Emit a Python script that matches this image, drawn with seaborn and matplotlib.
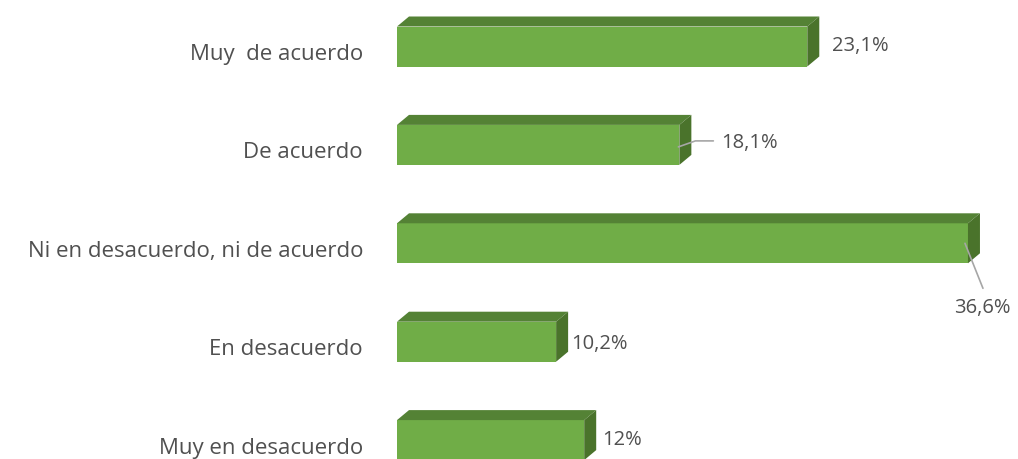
import matplotlib
matplotlib.use("Agg")
import matplotlib.pyplot as plt
from matplotlib.patches import Polygon
import pandas as pd
import seaborn as sns

# Survey answers, top to bottom as drawn
categories = [
    "Muy  de acuerdo",
    "De acuerdo",
    "Ni en desacuerdo, ni de acuerdo",
    "En desacuerdo",
    "Muy en desacuerdo",
]
# bar lengths (%)
values = [26.3, 18.1, 36.6, 10.2, 12.0]
# data labels as printed in the chart
value_labels = ["23,1%", "18,1%", "36,6%", "10,2%", "12%"]

FRONT_COLOR = "#70AD47"
TOP_COLOR = "#548235"
SIDE_COLOR = "#4A732B"
TEXT_COLOR = "#505050"
LEADER_COLOR = "#A6A6A6"

W, H, DPI = 1018, 459, 100

sns.set_theme(style="white")
plt.rcParams["font.family"] = ["Open Sans", "DejaVu Sans"]

df = pd.DataFrame({"category": categories, "value": values})

fig = plt.figure(figsize=(W / DPI, H / DPI), dpi=DPI)
# axes placed so that 0% sits at x=397px and 15.6 px per percent
x0_px, px_per_pct = 397, 15.6
xmax = 39
row_px = 98.4
top_center_px = 46.5
ax_top_px = top_center_px - 0.5 * row_px
ax_h_px = 5 * row_px
ax = fig.add_axes([x0_px / W, (H - ax_top_px - ax_h_px) / H,
                   xmax * px_per_pct / W, ax_h_px / H])

bar_w = 40 / row_px
sns.barplot(data=df, x="value", y="category", orient="h", color=FRONT_COLOR,
            width=bar_w, saturation=1, ax=ax)
ax.set_xlim(0, xmax)
ax.set_ylim(4.5, -0.5)
ax.axis("off")

# pseudo-3D depth faces
dx = 12 / px_per_pct
dy = 10 / row_px
for p in ax.patches[:len(values)]:
    p.set_edgecolor("none")
    x0, x1 = p.get_x(), p.get_x() + p.get_width()
    ytop, ybot = p.get_y(), p.get_y() + p.get_height()
    top = Polygon([(x0, ytop), (x1, ytop), (x1 + dx, ytop - dy), (x0 + dx, ytop - dy)],
                  closed=True, facecolor=TOP_COLOR, edgecolor="none", clip_on=False)
    side = Polygon([(x1, ytop), (x1, ybot), (x1 + dx, ybot - dy), (x1 + dx, ytop - dy)],
                   closed=True, facecolor=SIDE_COLOR, edgecolor="none", clip_on=False)
    ax.add_patch(top)
    ax.add_patch(side)

# category labels
for i, cat in enumerate(categories):
    ax.annotate(cat, xy=(0, i), xytext=(-34, -8), textcoords="offset pixels",
                ha="right", va="center", fontsize=16, color=TEXT_COLOR,
                annotation_clip=False)

# data labels (offsets in pixels from bar end)
label_offsets = [(25, 0, "left"), (42, 2, "left"), (14, -65, "center"),
                 (15, -2, "left"), (18, 0, "left")]
for i, (v, lab) in enumerate(zip(values, value_labels)):
    ox, oy, ha = label_offsets[i]
    ax.annotate(lab, xy=(v, i), xytext=(ox, oy), textcoords="offset pixels",
                ha=ha, va="center", fontsize=14.5, color=TEXT_COLOR,
                annotation_clip=False)

# leader lines for the labels that sit away from their bars
leaders = {1: [(-1, -2), (16, 4), (34, 4)], 2: [(-3, 0), (15, -45)]}
for i, pts in leaders.items():
    base = ax.transData.transform((values[i], i))
    xs, ys = [], []
    for ox, oy in pts:
        xd, yd = ax.transData.inverted().transform((base[0] + ox, base[1] + oy))
        xs.append(xd)
        ys.append(yd)
    ax.plot(xs, ys, color=LEADER_COLOR, linewidth=1.2, clip_on=False, zorder=5)

fig.savefig("out.png", dpi=DPI)
